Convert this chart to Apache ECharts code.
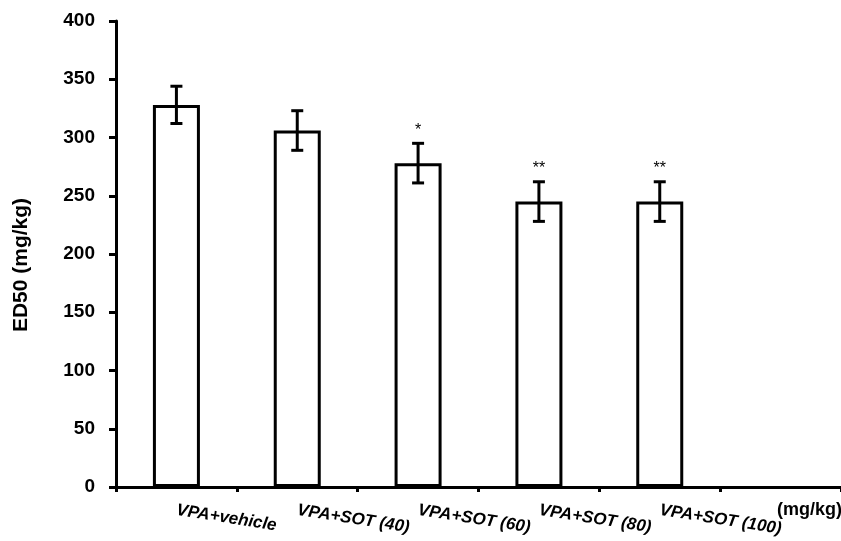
<!DOCTYPE html>
<html>
<head>
<meta charset="utf-8">
<script src="https://cdn.jsdelivr.net/npm/echarts@6/dist/echarts.min.js"></script>
<style>
  html, body { margin: 0; padding: 0; background: #fff; }
  #chart { width: 841px; height: 541px; }
</style>
</head>
<body>
<div id="chart"></div>
<script>
// Treatment groups (last slot is left empty, only the unit note sits there)
const categories = ['VPA+vehicle', 'VPA+SOT (40)', 'VPA+SOT (60)', 'VPA+SOT (80)', 'VPA+SOT (100)', ''];
// ED50 of valproate (mg/kg) per group
const ed50 = [328, 306, 278, 245, 245];
// Error (± SEM) per group
const sem = [16, 17, 17, 17, 17];
// Significance markers per group
const marks = ['', '', '*', '**', '**'];
// Y axis range and step
const yMin = 0, yMax = 400, yStep = 50;

const FONT = '"Liberation Sans", Arial, sans-serif';

const errData = ed50.map((v, i) => [i, v, sem[i], marks[i]]);

const chart = echarts.init(document.getElementById('chart'), null, { renderer: 'canvas' });

chart.setOption({
  animation: false,
  backgroundColor: '#fff',
  grid: { left: 116, right: 0, top: 21, bottom: 54, containLabel: false, outerBoundsMode: 'none' },
  xAxis: {
    type: 'category',
    data: categories,
    boundaryGap: true,
    axisLine: { lineStyle: { color: '#000', width: 3 } },
    axisTick: { show: true, inside: false, length: 5, lineStyle: { color: '#000', width: 3 } },
    axisLabel: {
      interval: 0,
      rotate: -9,
      margin: 23,
      color: '#000',
      fontFamily: FONT,
      fontSize: 17,
      fontWeight: 'bold',
      fontStyle: 'italic'
    },
    splitLine: { show: false }
  },
  yAxis: {
    type: 'value',
    min: yMin,
    max: yMax,
    interval: yStep,
    name: 'ED50 (mg/kg)',
    nameLocation: 'middle',
    nameGap: 84,
    nameTextStyle: {
      color: '#000',
      fontFamily: FONT,
      fontSize: 21,
      fontWeight: 'bold',
      padding: [0, 22, 0, 0]
    },
    axisLine: { show: true, lineStyle: { color: '#000', width: 3 } },
    axisTick: { show: true, inside: false, length: 7, lineStyle: { color: '#000', width: 3 } },
    axisLabel: {
      margin: 21,
      color: '#000',
      fontFamily: FONT,
      fontSize: 19,
      fontWeight: 'bold'
    },
    splitLine: { show: false }
  },
  series: [
    {
      type: 'bar',
      data: ed50,
      barWidth: 47,
      itemStyle: { color: '#fff', borderColor: '#000', borderWidth: 3 },
      z: 2
    },
    {
      type: 'custom',
      data: errData,
      encode: { x: 0, y: 1 },
      z: 3,
      renderItem: function (params, api) {
        const i = api.value(0);
        const v = api.value(1);
        const e = api.value(2);
        const mark = marks[params.dataIndex];
        const top = api.coord([i, v + e]);
        const bot = api.coord([i, v - e]);
        const cap = 6;
        const style = { stroke: '#000', lineWidth: 3 };
        const children = [
          { type: 'line', shape: { x1: top[0], y1: top[1], x2: bot[0], y2: bot[1] }, style: style },
          { type: 'line', shape: { x1: top[0] - cap, y1: top[1], x2: top[0] + cap, y2: top[1] }, style: style },
          { type: 'line', shape: { x1: bot[0] - cap, y1: bot[1], x2: bot[0] + cap, y2: bot[1] }, style: style }
        ];
        if (mark) {
          children.push({
            type: 'text',
            style: {
              x: top[0],
              y: top[1] - 13,
              text: mark,
              fill: '#000',
              font: '16px ' + FONT,
              align: 'center',
              verticalAlign: 'middle'
            }
          });
        }
        return { type: 'group', children: children };
      }
    }
  ],
  graphic: [
    {
      type: 'text',
      left: 777,
      top: 501,
      style: {
        text: '(mg/kg)',
        fill: '#000',
        font: 'bold 18px ' + FONT
      }
    }
  ]
});
</script>
</body>
</html>
